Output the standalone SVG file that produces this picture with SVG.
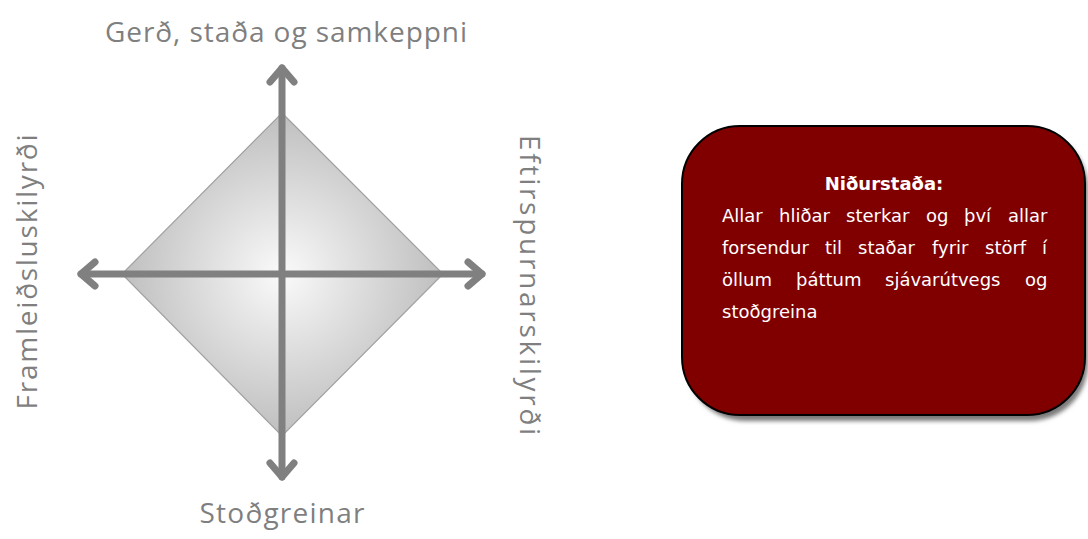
<svg xmlns="http://www.w3.org/2000/svg" width="1088" height="539" viewBox="0 0 1088 539">
<style>
.lbl{font-family:"Open Sans","DejaVu Sans",sans-serif;font-size:28px;fill:#7f7f7f}
.axis{stroke:#808080;stroke-width:7;stroke-linecap:round;stroke-linejoin:round;fill:none}
.btxt{font-family:"DejaVu Sans",sans-serif;font-size:18px;fill:#ffffff}
</style>
<defs>
<radialGradient id="g" cx="282" cy="274" r="165" gradientUnits="userSpaceOnUse">
<stop offset="0" stop-color="#fafafa"/>
<stop offset="1" stop-color="#bdbdbd"/>
</radialGradient>
<filter id="sh" x="-10%" y="-10%" width="130%" height="130%">
<feGaussianBlur stdDeviation="2"/>
</filter>
</defs>
<g id="diamond">
<polygon points="282,113 443,274 282,436 122,274" fill="url(#g)" stroke="#a0a0a0" stroke-width="1.2"/>
</g>
<g id="connectors">
<line class="axis" x1="282" y1="68" x2="282" y2="477"/>
<line class="axis" x1="81" y1="274" x2="482" y2="274"/>
<polyline class="axis" points="270,82 282,68 294,82"/>
<polyline class="axis" points="270,463 282,477 294,463"/>
<polyline class="axis" points="95,262 81,274 95,286"/>
<polyline class="axis" points="468,262 482,274 468,286"/>
</g>
<g id="label-top"><text class="lbl" x="286" y="42" text-anchor="middle" textLength="362">Gerð, staða og samkeppni</text></g>
<g id="label-bottom"><text class="lbl" x="282" y="523" text-anchor="middle" textLength="165">Stoðgreinar</text></g>
<g id="label-left"><text class="lbl" transform="translate(37,272) rotate(-90)" text-anchor="middle" textLength="275">Framleiðsluskilyrði</text></g>
<g id="label-right"><text class="lbl" transform="translate(520,285) rotate(90)" text-anchor="middle" textLength="300">Eftirspurnarskilyrði</text></g>
<g id="result">
<rect x="687" y="131" width="401" height="290" rx="58" ry="58" fill="#7a7a7a" filter="url(#sh)"/>
<rect x="682" y="126" width="403" height="289" rx="58" ry="58" fill="#800000" stroke="#000000" stroke-width="2"/>
<text class="btxt" x="884" y="190" text-anchor="middle" font-weight="bold" font-size="21">Niðurstaða:</text>
<text class="btxt" y="222"><tspan x="722">Allar</tspan><tspan x="779">hliðar</tspan><tspan x="846">sterkar</tspan><tspan x="926">og</tspan><tspan x="964">því</tspan><tspan x="1008">allar</tspan></text>
<text class="btxt" y="254"><tspan x="722">forsendur</tspan><tspan x="825">til</tspan><tspan x="858">staðar</tspan><tspan x="932">fyrir</tspan><tspan x="985">störf</tspan><tspan x="1042">í</tspan></text>
<text class="btxt" y="286"><tspan x="722">öllum</tspan><tspan x="796">þáttum</tspan><tspan x="885">sjávarútvegs</tspan><tspan x="1025">og</tspan></text>
<text class="btxt" x="722" y="318">stoðgreina</text>
</g>
</svg>
